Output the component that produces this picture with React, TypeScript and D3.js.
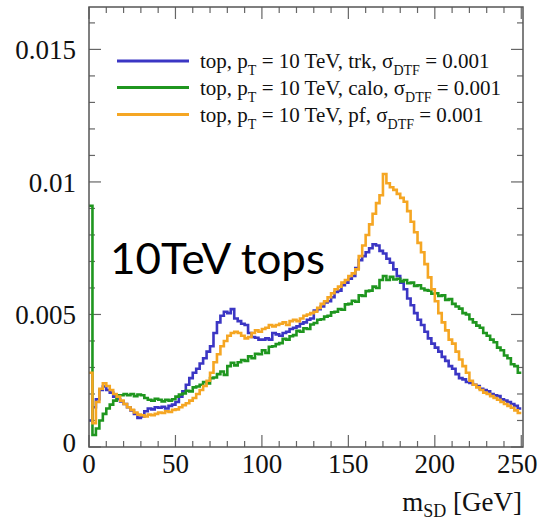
import React from "react";
import * as d3 from "d3";

// bin width in GeV (bins start at 0)
const binWidth = 2;

// values in units of 1e-3
const trk = [
  1.0, 1.5, 1.8, 2.15, 2.28, 2.15, 2.05, 1.9, 1.8, 1.72,
  1.62, 1.5, 1.38, 1.25, 1.1, 1.15, 1.35, 1.45, 1.42, 1.5,
  1.48, 1.52, 1.45, 1.55, 1.6, 1.7, 1.9, 2.1, 2.35, 2.6,
  2.8, 2.95, 3.15, 3.35, 3.6, 3.8, 4.3, 4.7, 4.95, 5.1,
  5.05, 5.2, 4.85, 4.75, 4.65, 4.6, 4.3, 4.15, 4.12, 4.05,
  4.05, 4.1, 4.05, 4.3, 4.25, 4.2, 4.3, 4.35, 4.45, 4.5,
  4.55, 4.65, 4.7, 4.8, 4.85, 5.15, 5.2, 5.3, 5.45, 5.5,
  5.65, 5.85, 5.9, 6.1, 6.2, 6.35, 6.45, 6.75, 7.05, 7.2,
  7.35, 7.5, 7.65, 7.6, 7.4, 7.3, 7.1, 6.95, 6.7, 6.45,
  6.2, 5.95, 5.6, 5.35, 5.05, 4.8, 4.6, 4.35, 4.1, 3.9,
  3.75, 3.6, 3.4, 3.25, 3.05, 2.95, 2.75, 2.6, 2.55, 2.45,
  2.42, 2.35, 2.3, 2.2, 2.15, 2.1, 2.0, 1.95, 1.92, 1.8,
  1.75, 1.7, 1.62, 1.55, 1.45,
];

const calo = [
  9.1, 0.45, 0.7, 1.0, 1.25, 1.45, 1.6, 1.75, 1.95, 1.95,
  2.0, 1.95, 2.0, 1.92, 1.98, 1.95, 1.85, 1.78, 1.75, 1.82,
  1.78, 1.72, 1.78, 1.75, 1.8, 1.9, 1.98, 2.02, 2.12, 2.1,
  2.25, 2.28, 2.35, 2.45, 2.4, 2.6, 2.62, 2.75, 2.85, 2.72,
  3.05, 3.18, 3.08, 3.2, 3.28, 3.25, 3.42, 3.35, 3.52, 3.5,
  3.65, 3.55, 3.78, 3.8, 3.88, 3.92, 4.08, 4.05, 4.18, 4.22,
  4.38, 4.35, 4.48, 4.45, 4.62, 4.68, 4.8, 4.82, 4.92, 4.95,
  5.08, 5.1, 5.2, 5.18, 5.38, 5.4, 5.52, 5.48, 5.72, 5.7,
  5.88, 5.9, 6.05, 6.0, 6.3, 6.45, 6.3, 6.42, 6.32, 6.35,
  6.25, 6.3, 6.18, 6.2, 6.08, 6.1, 5.98, 5.92, 5.9, 5.78,
  5.8, 5.7, 5.72, 5.55, 5.58, 5.4, 5.3, 5.22, 5.05, 5.0,
  4.82, 4.7, 4.58, 4.5, 4.3, 4.2, 4.05, 3.95, 3.75, 3.65,
  3.45, 3.35, 3.12, 3.05, 2.8,
];

const pf = [
  2.8, 0.9, 1.7, 2.2, 2.4, 2.3, 2.15, 2.0, 1.9, 1.75,
  1.62, 1.5, 1.4, 1.3, 1.22, 1.2, 1.15, 1.22, 1.2, 1.25,
  1.3, 1.28, 1.35, 1.32, 1.4, 1.42, 1.5, 1.58, 1.65, 1.75,
  1.85, 2.0, 2.15, 2.3, 2.5, 2.8, 3.2, 3.5, 3.8, 4.0,
  4.2, 4.3, 4.35, 4.3, 4.2, 4.1, 4.15, 4.3, 4.4, 4.35,
  4.45, 4.5, 4.6, 4.55, 4.6, 4.65, 4.7, 4.6, 4.75, 4.8,
  4.75, 4.85, 4.95, 5.0, 5.05, 5.1, 5.25, 5.4, 5.5, 5.65,
  5.8, 5.95, 6.05, 6.2, 6.3, 6.45, 6.55, 6.7, 7.2, 7.6,
  8.0, 8.4, 8.8, 9.2, 9.5, 10.3, 9.95, 9.8, 9.7, 9.55,
  9.4, 9.25, 8.9, 8.5, 8.1, 7.7, 7.35, 6.9, 6.4, 5.95,
  5.5, 5.05, 4.7, 4.4, 4.05, 3.9, 3.6, 3.3, 3.05, 2.8,
  2.5, 2.35, 2.25, 2.15, 2.05, 2.0, 1.92, 1.85, 1.78, 1.7,
  1.62, 1.55, 1.48, 1.38, 1.28,
];

const seriesKeys = ["trk", "calo", "pf"];
const seriesColors = ["#3b36c4", "#1f961f", "#f5a623"];

const xMajorTicks = [0, 50, 100, 150, 200, 250];
const xMinorTicks = [10, 20, 30, 40, 60, 70, 80, 90, 110, 120, 130, 140, 160, 170, 180, 190, 210, 220, 230, 240];
const yMajorTicks = [0, 0.005, 0.01, 0.015];
const yTickLabels = ["0", "0.005", "0.01", "0.015"];
const yMinorTicks = [0.001, 0.002, 0.003, 0.004, 0.006, 0.007, 0.008, 0.009, 0.011, 0.012, 0.013, 0.014, 0.016];

const serif = "Liberation Serif, DejaVu Serif, serif";

export default function App() {
  const W = 545;
  const H = 523;
  const left = 89, right = 523, top = 7, bottom = 447;
  const x = d3.scaleLinear().domain([0, 251]).range([left, right]);
  const y = d3.scaleLinear().domain([0, 0.0166]).range([bottom, top]);

  const line = d3
    .line<[number, number]>()
    .x((d) => x(d[0]))
    .y((d) => y(d[1]))
    .curve(d3.curveStepAfter);

  const toPts = (vals: number[]): [number, number][] => {
    const p: [number, number][] = vals.map((v, i) => [i * binWidth, v * 1e-3]);
    p.push([vals.length * binWidth, vals[vals.length - 1] * 1e-3]);
    return p;
  };

  const data = [trk, calo, pf];
  const majorLen = 12;
  const minorLen = 6;
  const tickColor = "#666";

  const legendRows = [
    { label: "trk", y: 61 },
    { label: "calo", y: 87.5 },
    { label: "pf", y: 114.5 },
  ];

  return (
    <svg width={W} height={H} style={{ position: "absolute", left: 0, top: 0, background: "#fff" }}>
      <rect x={0} y={0} width={W} height={H} fill="#fff" />
      <defs>
        <clipPath id="plotclip">
          <rect x={left} y={top} width={right - left} height={bottom - top} />
        </clipPath>
      </defs>

      {/* ticks */}
      <g stroke={tickColor} strokeWidth={1.2}>
        {xMajorTicks.map((t) => (
          <g key={"xM" + t}>
            <line x1={x(t)} x2={x(t)} y1={bottom} y2={bottom - majorLen} />
            <line x1={x(t)} x2={x(t)} y1={top} y2={top + majorLen} />
          </g>
        ))}
        {xMinorTicks.map((t) => (
          <g key={"xm" + t}>
            <line x1={x(t)} x2={x(t)} y1={bottom} y2={bottom - minorLen} />
            <line x1={x(t)} x2={x(t)} y1={top} y2={top + minorLen} />
          </g>
        ))}
        {yMajorTicks.map((t) => (
          <g key={"yM" + t}>
            <line x1={left} x2={left + majorLen} y1={y(t)} y2={y(t)} />
            <line x1={right} x2={right - majorLen} y1={y(t)} y2={y(t)} />
          </g>
        ))}
        {yMinorTicks.map((t) => (
          <g key={"ym" + t}>
            <line x1={left} x2={left + minorLen} y1={y(t)} y2={y(t)} />
            <line x1={right} x2={right - minorLen} y1={y(t)} y2={y(t)} />
          </g>
        ))}
      </g>

      {/* histograms */}
      <g clipPath="url(#plotclip)" fill="none" strokeWidth={2.6} strokeLinejoin="miter">
        {data.map((vals, i) => (
          <path key={seriesKeys[i]} d={line(toPts(vals)) || ""} stroke={seriesColors[i]} />
        ))}
      </g>

      {/* frame */}
      <rect x={left} y={top} width={right - left} height={bottom - top} fill="none" stroke="#555" strokeWidth={1.5} />

      {/* x tick labels */}
      {xMajorTicks.map((t) => (
        <text
          key={"xl" + t}
          x={t === 250 ? x(t) - 4 : x(t)}
          y={473}
          fontFamily={serif}
          fontSize={27}
          fill="#111"
          textAnchor="middle"
        >
          {String(t)}
        </text>
      ))}

      {/* y tick labels */}
      {yMajorTicks.map((t, i) => (
        <text
          key={"yl" + t}
          x={76}
          y={y(t) + (t === 0 ? 5 : 10)}
          fontFamily={serif}
          fontSize={27}
          fill="#111"
          textAnchor="end"
        >
          {yTickLabels[i]}
        </text>
      ))}

      {/* x axis title */}
      <text x={522} y={511} fontFamily={serif} fontSize={27} fill="#111" textAnchor="end">
        m
        <tspan fontSize={18} dy={6}>SD</tspan>
        <tspan dy={-6}>{" [GeV]"}</tspan>
      </text>

      {/* legend */}
      {legendRows.map((r, i) => (
        <g key={"lg" + i}>
          <line x1={117} x2={189} y1={r.y} y2={r.y} stroke={seriesColors[i]} strokeWidth={3} />
          <text x={200} y={r.y + 7} fontFamily={serif} fontSize={21} fill="#111">
            {"top, p"}
            <tspan fontSize={14} dy={7}>T</tspan>
            <tspan dy={-7}>{" = 10 TeV, " + r.label + ", σ"}</tspan>
            <tspan fontSize={14} dy={7}>DTF</tspan>
            <tspan dy={-7}>{" = 0.001"}</tspan>
          </text>
        </g>
      ))}

      {/* annotation */}
      <text
        x={110}
        y={274}
        fontFamily="Lato, Open Sans, Noto Sans, sans-serif"
        fontSize={43}
        fill="#000"
        textLength={215}
        lengthAdjust="spacingAndGlyphs"
      >
        10TeV tops
      </text>
    </svg>
  );
}
